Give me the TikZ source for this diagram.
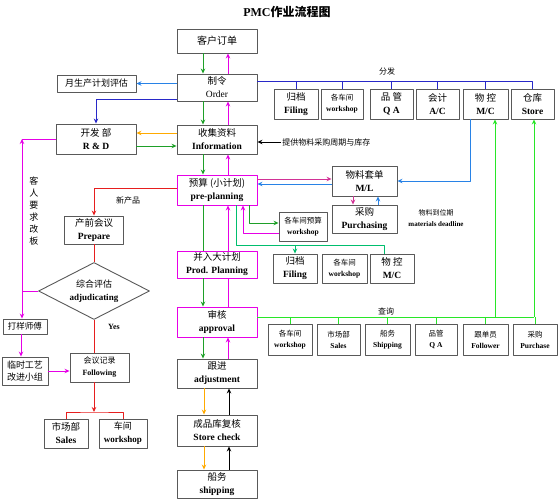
\documentclass[tikz,border=0pt]{standalone}
\usepackage{fontspec}
\setmainfont{Liberation Serif}
\newfontfamily\cjk{Noto Sans CJK SC}
\usetikzlibrary{shapes.geometric,arrows.meta}
\definecolor{gdk}{RGB}{30,160,40}
\definecolor{glime}{RGB}{40,230,40}
\definecolor{gteal}{RGB}{0,190,110}
\definecolor{bdark}{RGB}{40,40,200}
\definecolor{blight}{RGB}{40,130,230}
\definecolor{mgt}{RGB}{230,0,230}
\definecolor{pnk}{RGB}{210,50,150}
\definecolor{orng}{RGB}{255,170,0}
\definecolor{rd}{RGB}{230,30,30}
\begin{document}
\begin{tikzpicture}[x=1pt, y=-1pt, >={Stealth[length=5pt,width=4.5pt]}, line join=round, line width=0.9pt,
  box/.style={draw=black!65, fill=white, align=center, inner sep=0pt, font=\fontsize{9.5}{13}\selectfont},
  pbox/.style={box, draw=mgt},
  sbox/.style={box, font=\fontsize{7.5}{11}\selectfont},
  lbl/.style={font=\fontsize{8}{10}\selectfont\cjk, inner sep=1pt}]
\useasboundingbox (0,0) rectangle (558,500);
\node[font=\fontsize{12}{14}\selectfont\bfseries] (title) at (287,12) {PMC{\cjk 作业流程图}};

% main column
\node[box, minimum width=80, minimum height=24, font=\fontsize{10}{12}\selectfont\cjk] (kh) at (217,41) {客户订单};
\node[box, minimum width=80, minimum height=27] (order) at (217,87.5) {{\cjk 制令}\\Order};
\node[box, minimum width=80, minimum height=29] (info) at (217,139.5) {{\cjk 收集资料}\\\textbf{Information}};
\node[pbox, minimum width=80, minimum height=30] (pre) at (217,190) {{\cjk 预算 (小计划)}\\\textbf{pre-planning}};
\node[pbox, minimum width=80, minimum height=27] (prod) at (217,264.5) {{\cjk 并入大计划}\\\textbf{Prod. Planning}};
\node[pbox, minimum width=80, minimum height=30] (appr) at (217,322) {{\cjk 审核}\\\textbf{approval}};
\node[box, minimum width=80, minimum height=29] (adj) at (217,373.5) {{\cjk 跟进}\\\textbf{adjustment}};
\node[box, minimum width=80, minimum height=31] (sc) at (217,430.5) {{\cjk 成品库复核}\\\textbf{Store check}};
\node[box, minimum width=80, minimum height=28] (ship) at (217,484) {{\cjk 船务}\\\textbf{shipping}};

\foreach \a/\b in {kh/order, order/info, info/pre, appr/adj} {
  \draw[gdk,->] ([xshift=-14]\a.south) -- ([xshift=-14]\b.north);
  \draw[mgt,->] ([xshift=11]\b.north) -- ([xshift=11]\a.south);
}
\draw[gdk] ([xshift=-14]pre.south) -- ([xshift=-14]prod.north);
\draw[mgt,->] ([xshift=11]prod.north) -- ([xshift=11]pre.south);
\draw[gdk,->] ([xshift=-14]prod.south) -- ([xshift=-14]appr.north);
\draw[mgt] ([xshift=11]appr.north) -- ([xshift=11]prod.south);
\foreach \a/\b in {adj/sc, sc/ship} {
  \draw[orng,->] ([xshift=-13]\a.south) -- ([xshift=-13]\b.north);
  \draw[black,->] ([xshift=12]\b.north) -- ([xshift=12]\a.south);
}

% top row
\node[box, minimum width=44, minimum height=30] (fil) at (296,104) {{\cjk 归档}\\\textbf{Filing}};
\node[sbox, minimum width=42, minimum height=30] (ws) at (342,104) {{\cjk 各车间}\\\textbf{workshop}};
\node[box, minimum width=43, minimum height=30] (qa) at (391.5,104) {{\cjk 品 管}\\\textbf{Q A}};
\node[box, minimum width=43, minimum height=30] (ac) at (437.5,104) {{\cjk 会计}\\\textbf{A/C}};
\node[box, minimum width=45, minimum height=30] (mc) at (485.5,104) {{\cjk 物 控}\\\textbf{M/C}};
\node[box, minimum width=43, minimum height=30] (st) at (532.5,104) {{\cjk 仓库}\\\textbf{Store}};
\path (0,81) coordinate (fenfa);
\draw[bdark] (order.east |- fenfa) -| (st.north);
\foreach \b in {fil,ws,qa,ac,mc} \draw[bdark] (\b.north |- fenfa) -- (\b.north);
\node[lbl] (ff) at (387,71) {分发};

% left side
\node[box, minimum width=79, minimum height=17, font=\fontsize{9}{11}\selectfont\cjk] (mpe) at (96.5,83.5) {月生产计划评估};
\node[box, minimum width=80, minimum height=30] (rnd) at (96,139) {{\cjk 开发 部}\\\textbf{R \& D}};
\path (0,99) coordinate (rdl) (0,133) coordinate (orl) (0,146) coordinate (grl);
\draw[blight,->] (order.west |- mpe.east) -- (mpe.east);
\draw[bdark,->] (order.west |- rdl) -| (rnd.north);
\draw[orng,->] (info.west |- orl) -- (rnd.east |- orl);
\draw[gdk,->] (rnd.east |- grl) -- (info.west |- grl);

\node[anchor=west, lbl] (tg) at (281,142) {提供物料采购周期与库存};
\draw[black,->] (tg.west) -- (info.east |- tg.west);

% material list
\node[box, minimum width=65, minimum height=30] (ml) at (364.5,181) {{\cjk 物料套单}\\\textbf{M/L}};
\node[box, minimum width=65, minimum height=28] (pur) at (364.5,219) {{\cjk 采购}\\\textbf{Purchasing}};
\path (0,179) coordinate (pml1) (0,184) coordinate (pml2) (470,0) coordinate (mcx);
\draw[pnk,->] (pre.east |- pml1) -- (ml.west |- pml1);
\draw[blight,->] (ml.west |- pml2) -- (pre.east |- pml2);
\draw[blight,->] (mc.south -| mcx) |- (ml.east);
\draw[pnk,->] ([xshift=-11.5]ml.south) -- ([xshift=-11.5]pur.north);
\draw[blight,->] ([xshift=13.5]pur.north) -- ([xshift=13.5]ml.south);
\node[align=center, font=\fontsize{7}{11}\selectfont] (mdl) at (436,218.5) {{\cjk 物料到位期}\\\textbf{materials deadline}};

% workshop budget
\node[sbox, minimum width=48, minimum height=29] (wsb) at (303,226.5) {{\cjk 各车间预算}\\\textbf{workshop}};
\path (0,223) coordinate (wsin) (0,233) coordinate (wsout) (384,245) coordinate (tl);
\draw[gdk,->] ([xshift=32]pre.south) |- (wsb.west |- wsin);
\draw[mgt,->] (wsb.west |- wsout) -| ([xshift=26]pre.south);

% middle row
\node[box, minimum width=44, minimum height=29] (fil2) at (295,268.5) {{\cjk 归档}\\\textbf{Filing}};
\node[sbox, minimum width=45, minimum height=29] (ws2) at (344.5,268.5) {{\cjk 各车间}\\\textbf{workshop}};
\node[box, minimum width=44, minimum height=29] (mc2) at (392,268.5) {{\cjk 物 控}\\\textbf{M/C}};
\draw[gteal] ([xshift=19]pre.south) |- (tl) -- (tl |- mc2.north);
\draw[gteal,->] (fil2.north |- tl) -- (fil2.north);

% query row
\node[sbox, minimum width=44, minimum height=31] (ws3) at (290,339.5) {{\cjk 各车间}\\\textbf{workshop}};
\node[sbox, minimum width=43, minimum height=31] (sa2) at (338.5,339.5) {{\cjk 市场部}\\\textbf{Sales}};
\node[sbox, minimum width=45, minimum height=31] (sh) at (387.5,339.5) {{\cjk 船务}\\\textbf{Shipping}};
\node[sbox, minimum width=42, minimum height=31] (qa2) at (436,339.5) {{\cjk 品管}\\\textbf{Q A}};
\node[sbox, minimum width=45, minimum height=31] (fo) at (485.5,339.5) {{\cjk 跟单员}\\\textbf{Follower}};
\node[sbox, minimum width=44, minimum height=31] (pu) at (535,339.5) {{\cjk 采购}\\\textbf{Purchase}};
\path (534,317) coordinate (qr) (495,317) coordinate (q1);
\draw[glime] (appr.east |- qr) -- (qr);
\foreach \b in {ws3,sa2,sh,qa2,fo,pu} \draw[glime] (\b.north |- qr) -- (\b.north);
\draw[glime,->] (q1) -- (q1 |- mc.south);
\draw[glime,->] (qr) -- (qr |- st.south);
\node[lbl] (cx) at (386,311) {查询};

% new product branch
\node[box, minimum width=59, minimum height=28] (prep) at (94,230) {{\cjk 产前会议}\\\textbf{Prepare}};
\node[draw=black!65, fill=white, diamond, aspect=2, inner sep=0pt, minimum width=111, minimum height=57, align=center, font=\fontsize{9}{13}\selectfont] (dia) at (94,291) {{\cjk 综合评估}\\\textbf{adjudicating}};
\node[box, minimum width=59, minimum height=29, font=\fontsize{8}{12}\selectfont] (fol) at (99.5,367.5) {{\cjk 会议记录}\\\textbf{Following}};
\node[box, minimum width=44, minimum height=29] (sa) at (66,433.5) {{\cjk 市场部}\\\textbf{Sales}};
\node[box, minimum width=48, minimum height=29, font=\fontsize{9}{13}\selectfont] (wsl) at (123,433.5) {{\cjk 车间}\\\textbf{workshop}};
\path (0,188) coordinate (rj) (94,412) coordinate (br);
\draw[rd,->] (pre.west |- rj) -| (prep.north);
\node[lbl] (xcp) at (128,200) {新产品};
\draw[rd] (prep.south) -- (dia.north);
\draw[rd] (dia.south) -- (dia.south |- fol.north);
\draw[rd,->] (dia.south |- fol.south) -- (br);
\draw[rd] (sa.north) |- (br) -| (wsl.north);
\node[font=\fontsize{8}{10}\selectfont\bfseries] (yes) at (114,327) {Yes};

% customer change loop
\node[box, minimum width=44, minimum height=15, font=\fontsize{8.5}{10}\selectfont\cjk] (dy) at (25,326.5) {打样师傅};
\node[box, minimum width=46, minimum height=28, font=\fontsize{9}{12}\selectfont\cjk] (lsg) at (25,371) {临时工艺\\改进小组};
\path (22,291) coordinate (mj);
\draw[mgt] (dia.west) -- (mj);
\draw[mgt,->] (mj) -- (mj |- rnd.west);
\draw[mgt] (mj |- rnd.west) -- (rnd.west);
\draw[mgt,->] (mj) -- (mj |- dy.north);
\draw[mgt,->] ([xshift=-4]dy.south) -- ([xshift=-4]lsg.north);
\draw[mgt,->] (lsg.east) -- (fol.west |- lsg.east);
\node[align=center, font=\fontsize{9}{12}\selectfont\cjk] (kr) at (34,211) {客\\人\\要\\求\\改\\板};
\end{tikzpicture}
\end{document}
